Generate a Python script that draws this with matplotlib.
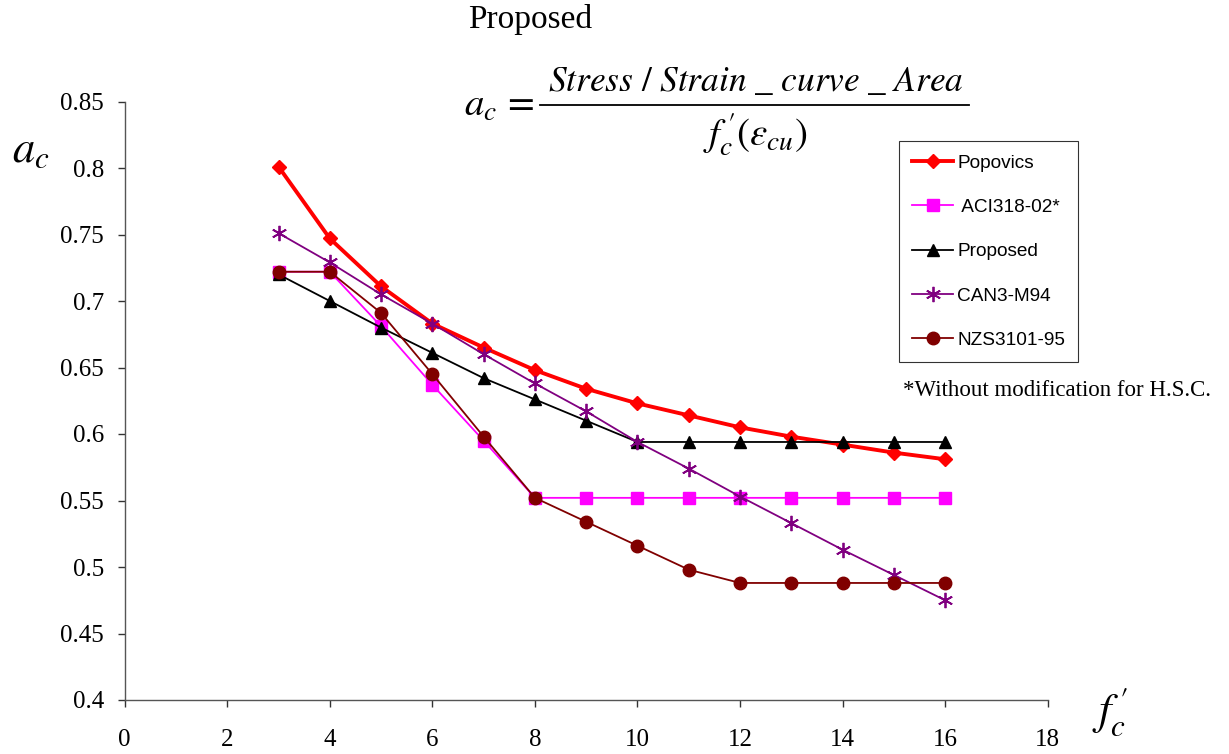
import matplotlib
matplotlib.use("Agg")
import matplotlib.pyplot as plt
from matplotlib.lines import Line2D

plt.rcParams['mathtext.fontset'] = 'stix'

x_vals = [3, 4, 5, 6, 7, 8, 9, 10, 11, 12, 13, 14, 15, 16]
popovics = [0.801, 0.747, 0.711, 0.683, 0.665, 0.648, 0.634, 0.623, 0.614, 0.605, 0.598, 0.592, 0.586, 0.581]
aci = [0.722, 0.722, 0.681, 0.637, 0.595, 0.552, 0.552, 0.552, 0.552, 0.552, 0.552, 0.552, 0.552, 0.552]
proposed = [0.720, 0.700, 0.680, 0.661, 0.642, 0.626, 0.610, 0.594, 0.594, 0.594, 0.594, 0.594, 0.594, 0.594]
can3 = [0.751, 0.729, 0.705, 0.683, 0.660, 0.638, 0.617, 0.594, 0.574, 0.553, 0.533, 0.513, 0.494, 0.475]
nzs = [0.722, 0.722, 0.691, 0.645, 0.598, 0.552, 0.534, 0.516, 0.498, 0.488, 0.488, 0.488, 0.488, 0.488]
x_ticks = [0, 2, 4, 6, 8, 10, 12, 14, 16, 18]
y_ticks = [0.4, 0.45, 0.5, 0.55, 0.6, 0.65, 0.7, 0.75, 0.8, 0.85]

W, H = 1229, 754
fig = plt.figure(figsize=(W / 100, H / 100), dpi=100)
ax = fig.add_axes([124.7 / W, 1 - 700 / H, (1047.7 - 124.7) / W, (700 - 101.5) / H])

ax.plot(x_vals, popovics, color='#FF0000', lw=2.8, marker='D', ms=7, label='Popovics', zorder=3)
ax.plot(x_vals, aci, color='#FF00FF', lw=1.3, marker='s', ms=9, label=' ACI318-02*', zorder=3)
ax.plot(x_vals, proposed, color='black', lw=1.3, marker='^', ms=9, label='Proposed', zorder=3)
ax.plot(x_vals, can3, color='#800080', lw=1.3, marker=(6, 2, 0), ms=11, mew=1.3, label='CAN3-M94', zorder=3)
ax.plot(x_vals, nzs, color='#800000', lw=1.3, marker='o', ms=9, label='NZS3101-95', zorder=3)

ax.set_xlim(0, 18)
ax.set_ylim(0.4, 0.85)
ax.set_xticks(x_ticks)
ax.set_yticks(y_ticks)
ax.set_xticklabels([str(v) for v in x_ticks])
ax.set_yticklabels([('%.2f' % v).rstrip('0').rstrip('.') for v in y_ticks])

for s in ['top', 'right']:
    ax.spines[s].set_visible(False)
for s in ['left', 'bottom']:
    ax.spines[s].set_color('#555555')
    ax.spines[s].set_linewidth(1.0)
ax.tick_params(direction='out', length=5, width=1.0, color='#333333')
ax.tick_params(axis='y', pad=10)
ax.tick_params(axis='x', pad=16)
for lab in ax.get_xticklabels() + ax.get_yticklabels():
    lab.set_fontfamily('Liberation Serif')
    lab.set_fontsize(18)

leg = ax.legend(loc='upper left', prop={'family': 'Liberation Sans', 'size': 13.7},
                frameon=True, fancybox=False, edgecolor='black', labelspacing=1.42,
                handlelength=2.15, handletextpad=0.2, borderpad=0.7, borderaxespad=0)
leg.get_frame().set_linewidth(0.8)
leg.set_bbox_to_anchor((899 / W, 1 - 141 / H), transform=fig.transFigure)

fig.text(903 / W, 1 - 390 / H, '*Without modification for H.S.C.', family='Liberation Serif',
         fontsize=16.5, ha='left', va='center')

fig.text(530 / W, 1 - 28 / H, 'Proposed', family='Liberation Serif', fontsize=24,
         ha='center', va='baseline')

# formula: a_c = numerator / denominator
fig.text(534 / W, 1 - 116 / H, r'$a_c\,=$', fontsize=28, ha='right', va='baseline')
fig.text(756 / W, 1 - 91 / H, r'$Stress\ /\ Strain\ \_\ curve\ \_\ Area$',
         fontsize=25.5, ha='center', va='baseline')
fig.add_artist(Line2D([540 / W, 969 / W], [1 - 105 / H, 1 - 105 / H], color='black', lw=1.3,
                      transform=fig.transFigure))
fig.text(755 / W, 1 - 146 / H, r'$f_c^{\,\prime}(\varepsilon_{cu})$', fontsize=28,
         ha='center', va='baseline')

fig.text(31 / W, 1 - 150 / H, r'$a_c$', fontsize=32, ha='center', va='center')
fig.text(1110 / W, 1 - 712 / H, r'$f_c^{\,\prime}$', fontsize=32, ha='center', va='center')

fig.savefig('out.png', dpi=100)
